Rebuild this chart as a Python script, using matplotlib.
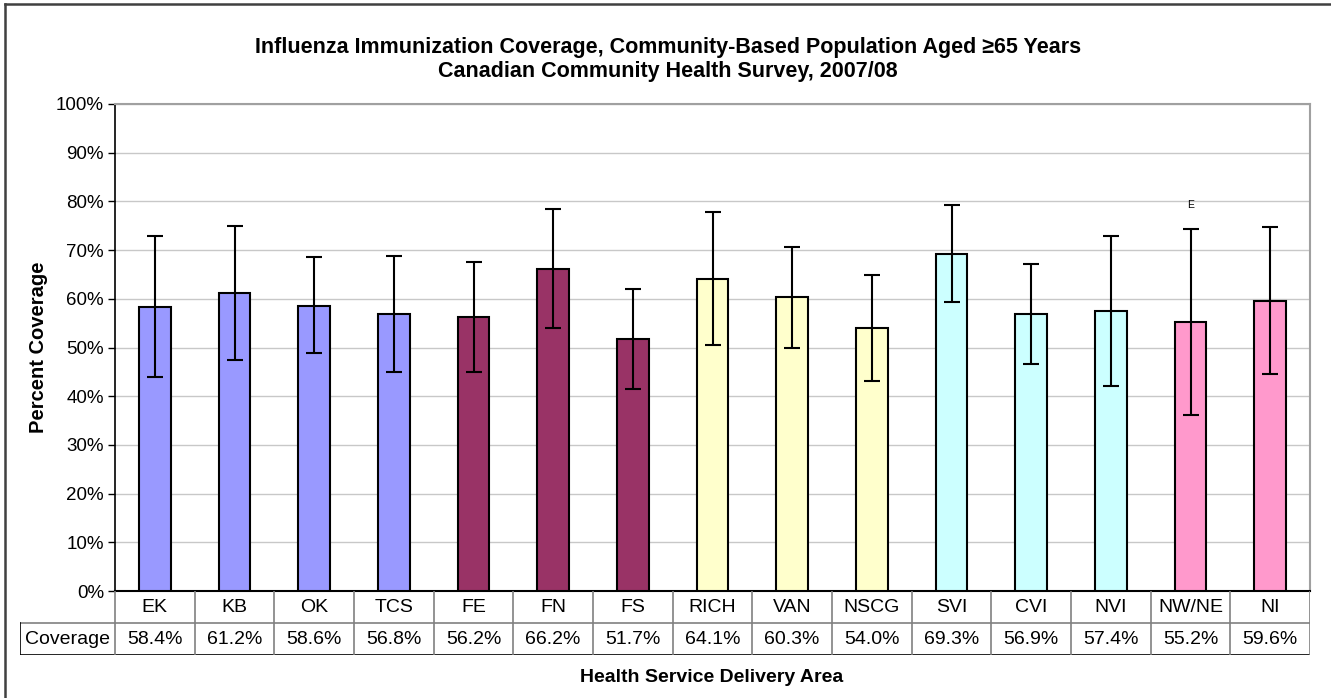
import numpy as np
import matplotlib
matplotlib.use("Agg")
import matplotlib.pyplot as plt
from matplotlib.ticker import PercentFormatter
from matplotlib.lines import Line2D

plt.rcParams["font.family"] = ["Liberation Sans", "DejaVu Sans"]

# data
areas = ["EK", "KB", "OK", "TCS", "FE", "FN", "FS", "RICH", "VAN", "NSCG",
         "SVI", "CVI", "NVI", "NW/NE", "NI"]
coverage = [58.4, 61.2, 58.6, 56.8, 56.2, 66.2, 51.7, 64.1, 60.3, 54.0,
            69.3, 56.9, 57.4, 55.2, 59.6]
ci_low = [44.0, 47.4, 48.9, 45.0, 44.9, 54.0, 41.5, 50.5, 50.0, 43.1,
          59.4, 46.6, 42.1, 36.1, 44.6]
ci_high = [72.9, 75.0, 68.6, 68.7, 67.6, 78.4, 62.0, 77.8, 70.6, 64.9,
           79.2, 67.2, 72.9, 74.4, 74.8]
flags = ["", "", "", "", "", "", "", "", "", "", "", "", "", "E", ""]

# one colour per health authority (Excel palette)
BLUE, MAROON, YELLOW, CYAN, PINK = "#9999ff", "#993366", "#ffffcc", "#ccffff", "#ff99cc"
bar_colors = [BLUE] * 4 + [MAROON] * 3 + [YELLOW] * 3 + [CYAN] * 3 + [PINK] * 2
TABLE_C = "#808080"

W, H = 1331, 698
fig = plt.figure(figsize=(W / 100, H / 100), dpi=100, facecolor="white")

def fx(px):
    return px / W

def fy(py):
    return 1 - py / H

L, R, T, B = 115, 1310, 104, 591
ax = fig.add_axes([fx(L), fy(B), fx(R - L), fy(T) - fy(B)])
x = np.arange(len(areas))
cov = np.array(coverage)
yerr = [cov - np.array(ci_low), np.array(ci_high) - cov]
ax.bar(x, cov, width=0.4, color=bar_colors, edgecolor="black", lw=1.5, zorder=3)
ax.errorbar(x, cov, yerr=yerr, fmt="none", ecolor="black", elinewidth=1.5,
            capsize=5.5, capthick=1.5, zorder=4)
for i, f in enumerate(flags):
    if f:
        ax.annotate(f, (x[i], ci_high[i]), xytext=(0, 17), textcoords="offset points",
                    ha="center", va="center", fontsize=7.5)

ax.set_xlim(-0.5, len(areas) - 0.5)
ax.set_ylim(0, 100)
ax.set_yticks(np.arange(0, 101, 10))
ax.yaxis.set_major_formatter(PercentFormatter(decimals=0))
ax.set_xticks([])
ax.grid(axis="y", color="#c8c8c8", lw=1, zorder=0)
ax.tick_params(axis="y", labelsize=13.5, length=5, width=1, direction="out", pad=3)
for side in ("top", "right"):
    ax.spines[side].set_color("#a0a0a0")
    ax.spines[side].set_linewidth(1.5)
ax.spines["left"].set_linewidth(1.2)
ax.spines["bottom"].set_linewidth(1.5)
ax.set_ylabel("Percent Coverage", fontsize=14.5, fontweight="bold", labelpad=6)

# data table under the bars
TL, TB = 20, 655
tax = fig.add_axes([fx(TL), fy(TB), fx(R - TL), fy(B) - fy(TB)])
unit = (R - L) / len(areas)
x0 = -0.5 - (L - TL) / unit
tax.set_xlim(x0, len(areas) - 0.5)
tax.set_ylim(0, 2)
tax.axis("off")
kw = dict(color=TABLE_C, lw=1.2)
tax.plot([x0, len(areas) - 0.5], [1, 1], **kw)
tax.plot([x0, len(areas) - 0.5], [0, 0], color="black", lw=1.2)
tax.plot([x0, x0], [0, 1], color="black", lw=1.2)
for b in np.arange(-0.5, len(areas), 1.0):
    tax.plot([b, b], [0, 2], **kw)
for i, (a, c) in enumerate(zip(areas, coverage)):
    tax.text(i, 1.5, a, ha="center", va="center", fontsize=14)
    tax.text(i, 0.5, f"{c:.1f}%", ha="center", va="center", fontsize=14)
tax.text((x0 - 0.5) / 2, 0.5, "Coverage", ha="center", va="center", fontsize=14)

fig.text(fx(668), fy(47), "Influenza Immunization Coverage, Community-Based Population Aged \u226565 Years",
         ha="center", va="center", fontsize=15.5, fontweight="bold")
fig.text(fx(668), fy(72), "Canadian Community Health Survey, 2007/08",
         ha="center", va="center", fontsize=15.5, fontweight="bold")
fig.text(fx(712), fy(677), "Health Service Delivery Area",
         ha="center", va="center", fontsize=14, fontweight="bold")

# outer chart frame
fig.add_artist(Line2D([fx(5), fx(5)], [fy(4), 0], transform=fig.transFigure, color="#404040", lw=1.8))
fig.add_artist(Line2D([fx(5), 1], [fy(4), fy(4)], transform=fig.transFigure, color="#404040", lw=1.8))

fig.savefig("out.png", dpi=100, facecolor="white")
